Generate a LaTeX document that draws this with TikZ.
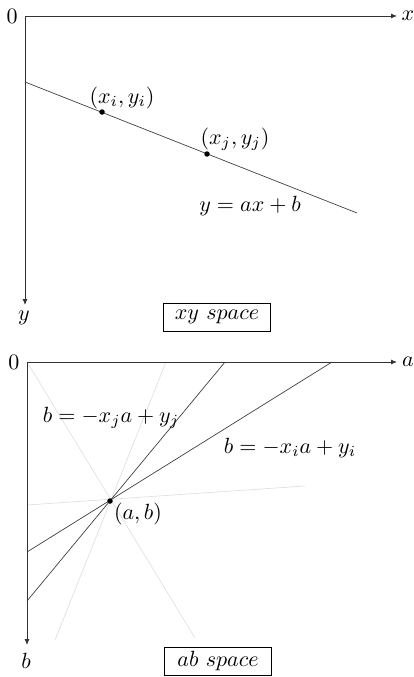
\documentclass[tikz,border=0pt]{standalone}
\usetikzlibrary{arrows.meta}
\begin{document}
\begin{tikzpicture}[x=1pt,y=-1pt,
  axis/.style={draw=black!80,line width=0.8pt,-{Latex[length=6pt,width=5pt]}},
  dline/.style={draw=black!75,line width=0.7pt},
  gline/.style={draw=black!12,line width=0.7pt},
  lbl/.style={inner sep=0pt,scale=2.2},
  pt/.style={circle,fill=black,inner sep=0pt,minimum size=5.5pt},
  boxed/.style={draw,line width=0.8pt,minimum width=107pt,minimum height=28pt,inner sep=0pt}]
\useasboundingbox (0,0) rectangle (414,677);
% top panel
\coordinate (O1) at (25,16);
\coordinate (X1) at (397,16);
\coordinate (Y1) at (25,305);
\node[lbl] (zero1) at (12,16) {$0$};
\node[lbl] (xl) at (408,16) {$x$};
\node[lbl] (yl) at (24,318) {$y$};
\draw[axis] (O1) -- (X1);
\draw[axis] (O1) -- (Y1);
\coordinate (L1) at (25,82);
\coordinate (L2) at (357,213);
\draw[dline] (L1) -- (L2);
\node[pt] (pi) at (102,112) {};
\node[pt] (pj) at (207,154) {};
\node[lbl] (pil) at (122,98) {$(x_i,y_i)$};
\node[lbl] (pjl) at (235,139) {$(x_j,y_j)$};
\node[lbl] (eq1) at (250,206) {$y=ax+b$};
\node[boxed] (box1) at (217,317) {};
\node[lbl] (box1t) at (box1.center) {$xy\ space$};
% bottom panel
\coordinate (O2) at (27,362);
\coordinate (X2) at (397,362);
\coordinate (Y2) at (27,645);
\node[lbl] (zero2) at (14,362) {$0$};
\node[lbl] (al) at (408,362) {$a$};
\node[lbl] (bl) at (26,661) {$b$};
% gray lines
\coordinate (G1a) at (27,362);   \coordinate (G1b) at (195,638);
\coordinate (G2a) at (166,362);  \coordinate (G2b) at (55,640);
\coordinate (G3a) at (27,505);   \coordinate (G3b) at (305,486);
\draw[gline] (G1a) -- (G1b);
\draw[gline] (G2a) -- (G2b);
\draw[gline] (G3a) -- (G3b);
% dark lines
\coordinate (D1a) at (225,362);  \coordinate (D1b) at (27,601);
\coordinate (D2a) at (332,362);  \coordinate (D2b) at (27,552);
\draw[dline] (D1a) -- (D1b);
\draw[dline] (D2a) -- (D2b);
\draw[axis] (O2) -- (X2);
\draw[axis] (O2) -- (Y2);
\node[pt] (pab) at (110,501) {};
\node[lbl] (pabl) at (138,514) {$(a,b)$};
\node[lbl] (eqj) at (111,418) {$b=-x_ja+y_j$};
\node[lbl] (eqi) at (290,448) {$b=-x_ia+y_i$};
\node[boxed] (box2) at (218,661) {};
\node[lbl] (box2t) at (box2.center) {$ab\ space$};
\end{tikzpicture}
\end{document}
